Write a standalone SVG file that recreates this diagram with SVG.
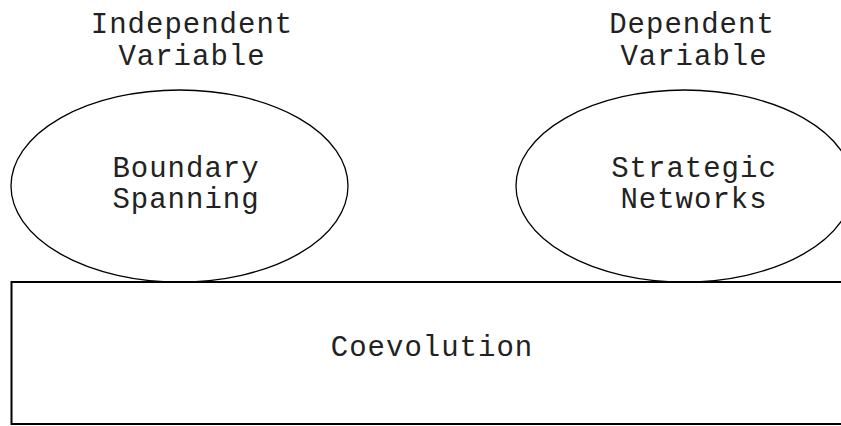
<svg xmlns="http://www.w3.org/2000/svg" width="841" height="426" viewBox="0 0 841 426">
  <style>
    .shape { fill: #ffffff; stroke: #000000; stroke-width: 1.3; }
    .box { fill: #ffffff; stroke: #000000; stroke-width: 2; }
    .label { font-family: "Liberation Mono", "Courier New", monospace; font-size: 29px; letter-spacing: 1px; fill: #222222; text-anchor: middle; }
  </style>
  <rect width="841" height="426" fill="#ffffff"/>

  <!-- Independent variable -->
  <g id="boundary-spanning">
    <text class="label" x="192" y="33">Independent</text>
    <text class="label" x="192" y="65">Variable</text>
    <ellipse class="shape" cx="179.5" cy="186" rx="168.5" ry="96"/>
    <text class="label" x="186" y="177">Boundary</text>
    <text class="label" x="186" y="208">Spanning</text>
  </g>

  <!-- Dependent variable -->
  <g id="strategic-networks">
    <text class="label" x="692" y="33">Dependent</text>
    <text class="label" x="694" y="65">Variable</text>
    <ellipse class="shape" cx="684.5" cy="186" rx="168.5" ry="96"/>
    <text class="label" x="694" y="177">Strategic</text>
    <text class="label" x="694" y="208">Networks</text>
  </g>

  <!-- Shared process underneath -->
  <g id="coevolution">
    <rect class="box" x="11.5" y="282" width="840" height="142"/>
    <text class="label" x="432" y="356">Coevolution</text>
  </g>

  <g id="connectors"></g>
</svg>
